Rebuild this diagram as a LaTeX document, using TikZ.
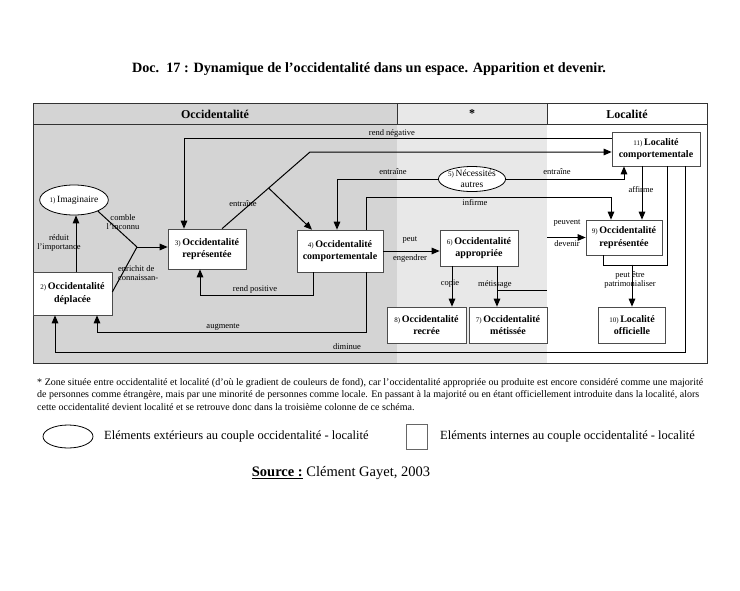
\documentclass[tikz,border=0pt]{standalone}
\usepackage{fontspec}
\setmainfont{Liberation Serif}
\usetikzlibrary{arrows.meta,shapes.geometric,calc}
\newcommand\bnum[1]{{\mdseries\fontsize{7}{8}\selectfont #1)}\,}
\begin{document}
\begin{tikzpicture}[x=1pt,y=-1pt,
  box/.style={draw=black!70, line width=0.6pt, fill=white, inner sep=0pt, align=center, font=\bfseries\fontsize{10}{12.5}\selectfont},
  ell/.style={ellipse, draw=black, line width=0.8pt, fill=white, inner sep=0pt, align=center, font=\fontsize{9.5}{11}\selectfont},
  arr/.style={draw, line width=1pt, -{Triangle[length=8pt,width=6.5pt]}},
  ln/.style={draw, line width=1pt},
  lbl/.style={font=\fontsize{8.5}{9.5}\selectfont, inner sep=0pt, align=center},
  hdr/.style={font=\bfseries\fontsize{12}{14}\selectfont, inner sep=0pt},
  foot/.style={font=\fontsize{10}{12}\selectfont, inner sep=0pt, anchor=west},
  leg/.style={font=\fontsize{12.5}{14}\selectfont, inner sep=0pt, anchor=west},
]
\useasboundingbox (0,0) rectangle (740,590);
\fill[white] (0,0) rectangle (740,590);
% backgrounds
\fill[black!17] (33,103) rectangle (397,363);
\fill[black!9] (397,103) rectangle (547,363);
\draw[black!80, line width=1pt] (33,103) rectangle (707,363);
\draw[black!80, line width=1pt] (33,124) -- (707,124);
\draw[black!80, line width=0.8pt] (397,103) -- (397,124);
\draw[black!80, line width=0.8pt] (547,103) -- (547,124);
% title and headers
\node[font=\bfseries\fontsize{14.2}{16}\selectfont, inner sep=0pt] (title) at (369,69) {Doc.\ \ 17 : Dynamique de l’occidentalité dans un espace. Apparition et devenir.};
\node[hdr] (h1) at (215,114) {Occidentalité};
\node[hdr] (h2) at (472,114) {*};
\node[hdr] (h3) at (627,114) {Localité};
% nodes
\node[ell, minimum width=63, minimum height=30] (ell1) at (74,200) {\bnum{1}Imaginaire};
\node[ell, minimum width=62, minimum height=25] (ell5) at (472,179) {\bnum{5}Nécessités\\autres};
\node[box, minimum width=79, minimum height=43] (box2) at (72.5,293.5) {\bnum{2}Occidentalité\\déplacée};
\node[box, minimum width=78, minimum height=40] (box3) at (207,249) {\bnum{3}Occidentalité\\représentée};
\node[box, minimum width=86, minimum height=42] (box4) at (340,251) {\bnum{4}Occidentalité\\comportementale};
\node[box, minimum width=78, minimum height=36] (box6) at (479,248) {\bnum{6}Occidentalité\\appropriée};
\node[box, minimum width=78, minimum height=36] (box7) at (508,325) {\bnum{7}Occidentalité\\métissée};
\node[box, minimum width=79, minimum height=36] (box8) at (426.5,325) {\bnum{8}Occidentalité\\recrée};
\node[box, minimum width=76, minimum height=35] (box9) at (624,237.5) {\bnum{9}Occidentalité\\représentée};
\node[box, minimum width=67, minimum height=36] (box10) at (632,325) {\bnum{10}Localité\\officielle};
\node[box, minimum width=88, minimum height=34] (box11) at (656,149) {\bnum{11}Localité\\comportementale};
% labels
\node[lbl] (l1) at (392,133) {rend négative};
\node[lbl] (l2) at (243,204) {entraîne};
\node[lbl] (l3) at (393,172) {entraîne};
\node[lbl] (l4) at (557,172) {entraîne};
\node[lbl] (l5) at (475,203) {infirme};
\node[lbl] (l6) at (410,240) {peut};
\node[lbl] (l7) at (410,258) {engendrer};
\node[lbl] (l8) at (255,289) {rend positive};
\node[lbl] (l9) at (223,327) {augmente};
\node[lbl] (l10) at (347,347) {diminue};
\node[lbl] (l11) at (450,284) {copie};
\node[lbl] (l12) at (495,284) {métissage};
\node[lbl] (l13) at (567,223) {peuvent};
\node[lbl] (l14) at (567,244) {devenir};
\node[lbl] (l15) at (641,190) {affirme};
\node[lbl] (l16) at (630,280) {peut être\\patrimonialiser};
\node[lbl] (l17) at (59,243) {réduit\\l’importance};
\node[lbl] (l18) at (123,222) {comble\\l’inconnu};
\node[lbl, align=left, anchor=west] (l19) at (118,273) {enrichit de\\connaissan-};
% connectors
\draw[arr] ($(box11.west)+(0,-11)$) -| ($(box3.north)+(-23,0)$);
\coordinate (eS) at ($(box3.north)+(15,0)$);
\coordinate (eT) at (310,152);
\draw[arr] (eS) -- (eT) -- (box11.west |- eT);
\coordinate (eM) at ($(eS)!0.53!(eT)$);
\draw[arr] (eM) -- ($(box4.north)+(-28,0)$);
\draw[arr] (ell5.west) -| ($(box4.north)+(-3,0)$);
\draw[arr] (ell5.east) -| ($(box11.south)+(-32,0)$);
\draw[arr] ($(box4.north)+(26,0)$) -- ++(0,-32) -| ($(box9.north)+(-13,0)$);
\draw[arr] ($(box4.south)+(26,0)$) -- ++(0,60) -| ($(box2.south)+(24.5,0)$);
\draw[arr] ($(box11.south)+(29,0)$) -- ++(0,186) -| ($(box2.south)+(-17.5,0)$);
\draw[arr] ($(box4.south)+(-27,0)$) -- ++(0,23) -| ($(box3.south)+(-7,0)$);
\draw[arr] (box4.east) -- (box6.west |- box4.east);
\draw[arr] ($(box6.south)+(-27,0)$) -- ($(box8.north)+(25.5,0)$);
\draw[arr] ($(box6.south)+(18,0)$) -- ($(box7.north)+(-11,0)$);
\coordinate (mz) at (547,290);
\coordinate (mj) at (497,290);
\draw[ln] (mz) -- (mj);
\coordinate (pd) at (547,237.5);
\draw[arr] (pd) -- (box9.west);
\draw[arr] ($(box11.south)+(-14,0)$) -- ($(box9.north)+(18,0)$);
\draw[ln] ($(box9.south)+(-21,0)$) -- ++(0,10) -| ($(box11.south)+(11,0)$);
\coordinate (pj) at ($(box10.north)+(0,-42)$);
\draw[arr] (pj) -- (box10.north);
\draw[arr] ($(box2.north)+(3.5,0)$) -- ($(ell1.south)+(2,0)$);
\coordinate (jn) at (137,247);
\draw[ln] (ell1.-25) -- (jn);
\draw[ln] ($(box2.east)+(0,-1.5)$) -- (jn);
\draw[arr] (jn) -- (box3.west |- jn);
% footnote
\node[foot] (f1) at (37,383) {\makebox[666pt][s]{* Zone située entre occidentalité et localité (d’où le gradient de couleurs de fond), car l’occidentalité appropriée ou produite est encore considéré comme une majorité}};
\node[foot] (f2) at (37,395) {\makebox[662pt][s]{de personnes comme étrangère, mais par une minorité de personnes comme locale. En passant à la majorité ou en étant officiellement introduite dans la localité, alors}};
\node[foot] (f3) at (37,407) {cette occidentalité devient localité et se retrouve donc dans la troisième colonne de ce schéma.};
% legend
\node[ellipse, draw=black, line width=0.8pt, minimum width=50, minimum height=23, inner sep=0pt] (lgE) at (68,436.5) {};
\node[leg] (lgT1) at (104,436) {Eléments extérieurs au couple occidentalité - localité};
\node[draw=black!60, line width=0.6pt, minimum width=21, minimum height=25, inner sep=0pt] (lgR) at (416.5,436.5) {};
\node[leg] (lgT2) at (440,436) {Eléments internes au couple occidentalité - localité};
\node[font=\fontsize{14.5}{16}\selectfont, inner sep=0pt] (src) at (341,473) {\underline{\textbf{Source :}} Clément Gayet, 2003};
\end{tikzpicture}
\end{document}
